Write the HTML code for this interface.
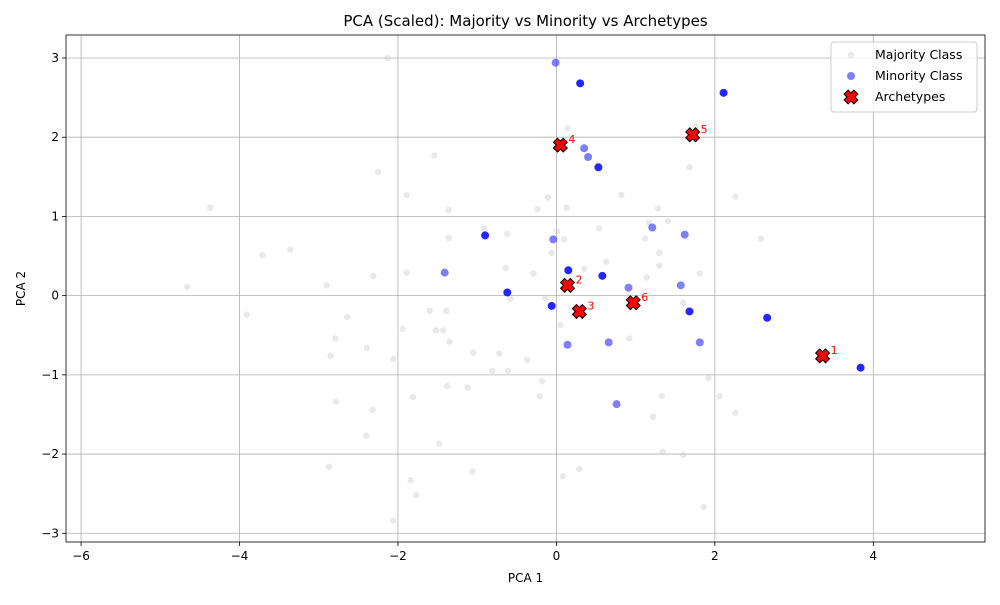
<!DOCTYPE html>
<html><head><meta charset="utf-8"><style>
body{margin:0;background:#fff;font-family:"Liberation Sans","DejaVu Sans",sans-serif}
svg text{font-family:"DejaVu Sans","Liberation Sans",sans-serif}
</style></head><body>
<svg id="chart" width="1000" height="600" xmlns="http://www.w3.org/2000/svg"></svg>
<script>
const majX=[-2.13,-4.37,-2.25,-1.54,-1.89,-1.36,-3.71,-3.36,-4.66,-3.91,-2.90,-2.31,-1.89,-1.36,-0.91,-0.62,-0.64,-0.29,-0.58,-0.06,0.13,-0.11,-0.24,0.54,0.63,0.01,0.10,0.35,-0.14,-1.60,-1.39,-1.43,-2.64,-1.94,-1.52,-1.35,-2.79,-2.39,-2.06,-2.85,-1.05,-0.72,-0.37,0.05,0.92,-0.18,-1.38,-1.12,-0.81,-0.61,-2.78,-2.32,-1.81,-0.21,1.33,1.22,1.92,2.06,2.26,-1.48,-2.40,-2.87,-1.84,-1.77,-2.06,-1.06,0.08,0.29,1.34,1.60,1.86,0.82,1.28,1.41,1.17,1.12,1.30,1.30,1.14,1.81,1.60,1.68,2.26,2.58,1.76,0.14];
const majY=[3.00,1.11,1.56,1.77,1.27,1.08,0.51,0.58,0.11,-0.24,0.13,0.25,0.29,0.73,0.85,0.78,0.35,0.28,-0.04,0.54,1.11,1.24,1.09,0.85,0.43,0.81,0.71,0.34,-0.03,-0.19,-0.19,-0.44,-0.27,-0.42,-0.44,-0.58,-0.54,-0.66,-0.80,-0.76,-0.72,-0.73,-0.81,-0.37,-0.54,-1.08,-1.14,-1.16,-0.95,-0.95,-1.34,-1.44,-1.28,-1.27,-1.27,-1.53,-1.04,-1.27,-1.48,-1.87,-1.77,-2.16,-2.33,-2.52,-2.84,-2.22,-2.28,-2.19,-1.97,-2.01,-2.67,1.27,1.10,0.94,0.92,0.72,0.54,0.38,0.23,0.28,-0.09,1.62,1.25,0.72,2.14,2.11];
const minX=[-0.01,0.30,2.11,0.35,0.40,0.53,-0.90,-0.04,1.21,1.62,0.15,0.58,-1.41,-0.62,0.91,1.57,-0.06,1.68,2.66,0.14,0.66,1.81,0.76,3.84];
const minY=[2.94,2.68,2.56,1.86,1.75,1.62,0.76,0.71,0.86,0.77,0.32,0.25,0.29,0.04,0.10,0.13,-0.13,-0.20,-0.28,-0.62,-0.59,-0.59,-1.37,-0.91];
const minDark=[0,1,1,0,0,1,1,0,0,0,1,1,0,1,0,0,1,1,1,0,0,0,0,1];
const arcX=[3.36,0.14,0.29,0.05,1.72,0.97];
const arcY=[-0.76,0.13,-0.20,1.90,2.03,-0.09];
const arcLabels=["1","2","3","4","5","6"];
const xTicks=[-6,-4,-2,0,2,4];
const yTicks=[3,2,1,0,-1,-2,-3];

const L=66,R=985,T=35,B=542, xmin=-6.19,xmax=5.41,ymin=-3.11,ymax=3.29;
const sx=v=>L+(v-xmin)/(xmax-xmin)*(R-L);
const sy=v=>B-(v-ymin)/(ymax-ymin)*(B-T);
const svg=document.getElementById('chart');
const NS="http://www.w3.org/2000/svg";
function mk(tag,at,parent){const e=document.createElementNS(NS,tag);for(const k in at)e.setAttribute(k,at[k]);(parent||svg).appendChild(e);return e;}

// grid + ticks
xTicks.forEach(t=>{const x=sx(t);
 const g=mk('line',{x1:x,x2:x,y1:T,y2:B,stroke:'#b0b0b0','stroke-width':0.8});
 
 mk('line',{x1:x,x2:x,y1:B,y2:B+4,stroke:'#000','stroke-width':0.8});
 const tx=mk('text',{x:x,y:B+18,'text-anchor':'middle','font-size':12});tx.textContent=String(t).replace('-','−');
 });
yTicks.forEach(t=>{const y=sy(t);
 const g=mk('line',{x1:L,x2:R,y1:y,y2:y,stroke:'#b0b0b0','stroke-width':0.8});
 
 mk('line',{x1:L-4,x2:L,y1:y,y2:y,stroke:'#000','stroke-width':0.8});
 const tx=mk('text',{x:L-7,y:y+4,'text-anchor':'end','font-size':12});tx.textContent=String(t).replace('-','−');
 });

majX.forEach((v,i)=>{const c=mk('circle',{cx:sx(v),cy:sy(majY[i]),r:3.2,fill:'#c8c8c8','fill-opacity':0.4});
 });
minX.forEach((v,i)=>{const c=mk('circle',{cx:sx(v),cy:sy(minY[i]),r:4,fill:'#0000ff','fill-opacity':minDark[i]?0.85:0.5});
 });
const xPath="M-2.5,-6 L0,-3.5 L2.5,-6 L6,-2.5 L3.5,0 L6,2.5 L2.5,6 L0,3.5 L-2.5,6 L-6,2.5 L-3.5,0 L-6,-2.5 Z";
arcX.forEach((v,i)=>{const x=sx(v),y=sy(arcY[i]);
 const p=mk('path',{d:xPath,transform:`translate(${x},${y}) scale(1.15)`,fill:'#ff0000',stroke:'#000','stroke-width':0.9});
 
 const t=mk('text',{x:x+8,y:y-2,'font-size':11,fill:'#ff0000'});t.textContent=arcLabels[i];
 });

const fr=mk('rect',{x:L,y:T,width:R-L,height:B-T,fill:'none',stroke:'#000','stroke-width':0.8});


const title=mk('text',{x:(L+R)/2,y:26,'text-anchor':'middle','font-size':15});title.textContent='PCA (Scaled): Majority vs Minority vs Archetypes';

const xl=mk('text',{x:(L+R)/2,y:582,'text-anchor':'middle','font-size':12});xl.textContent='PCA 1';

const yl=mk('text',{x:25,y:(T+B)/2,'text-anchor':'middle','font-size':12,transform:`rotate(-90 25 ${(T+B)/2})`});yl.textContent='PCA 2';


// legend
const lg=mk('g',{});

mk('rect',{x:831,y:42,width:146,height:70,rx:3,fill:'#fff','fill-opacity':0.8,stroke:'#ccc'},lg);
mk('circle',{cx:851,cy:55,r:3.2,fill:'#c8c8c8','fill-opacity':0.4},lg);
mk('circle',{cx:851,cy:76,r:4,fill:'#0000ff','fill-opacity':0.5},lg);
mk('path',{d:xPath,transform:'translate(851,97) scale(1.15)',fill:'#ff0000',stroke:'#000','stroke-width':0.9},lg);
[['Majority Class',59],['Minority Class',80],['Archetypes',101]].forEach(([s,y])=>{
 const t=mk('text',{x:875,y:y,'font-size':12.5},lg);t.textContent=s;
 });
</script>
</body></html>
